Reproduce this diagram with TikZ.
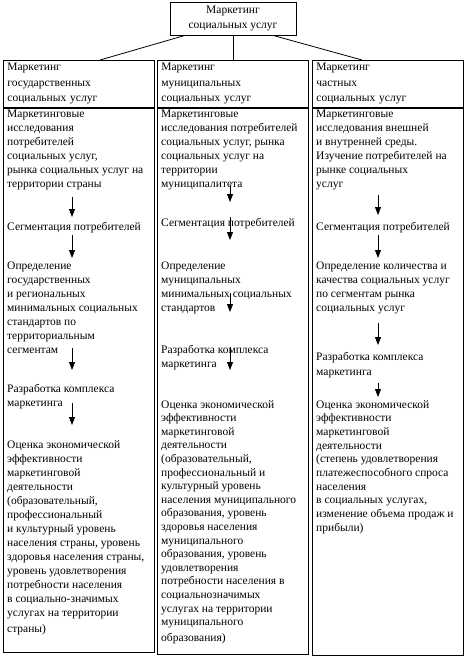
\documentclass[tikz,border=0pt]{standalone}
\usepackage{fontspec}
\setmainfont{Liberation Serif}
\usetikzlibrary{arrows.meta}
\tikzset{
    base/.style = {
        draw=black, line width=0.8pt, inner sep=0pt
    },
    % Boxes
    rootbox/.style = {base, rectangle, minimum width=126pt, minimum height=33pt,
        align=center, font=\fontsize{11.5}{15}\selectfont},
    header/.style  = {base, rectangle, anchor=north west, minimum width=151pt,
        minimum height=47pt, text width=143pt, inner xsep=4pt, align=left,
        font=\fontsize{11.5}{15.5}\selectfont},
    column/.style  = {base, rectangle, anchor=north west, minimum width=151pt},
    % Texts inside the columns
    stage/.style   = {anchor=north west, align=left, inner sep=0pt,
        font=\fontsize{11.5}{14}\selectfont},
    % Edges
    link/.style  = {line width=0.8pt},
    arrow/.style = {line width=0.8pt, -{Triangle[width=6pt,length=8pt]}}
}
\begin{document}
\begin{tikzpicture}[x=1pt, y=1pt]
    \useasboundingbox (0,0) rectangle (466,-657);

    % Top node
    \node (root) [rootbox] at (233,-18.5) {Маркетинг\\социальных услуг};

    % Column headers
    \node (hL) [header] at (3,-60)   {Маркетинг\\государственных\\социальных услуг};
    \node (hM) [header] at (157,-60) {Маркетинг\\муниципальных\\социальных услуг};
    \node (hR) [header] at (312,-60) {Маркетинг\\частных\\социальных услуг};

    % Column bodies
    \node (bL) [column, minimum height=544pt] at (hL.south west) {};
    \node (bM) [column, minimum height=546pt] at (hM.south west) {};
    \node (bR) [column, minimum height=547pt] at (hR.south west) {};

    % Links from the top node
    \draw [link] ([xshift=-48pt]root.south) -- ([xshift=97pt]hL.north west);
    \draw [link] (root.south) -- (root.south |- hM.north);
    \draw [link] ([xshift=40pt]root.south) -- ([xshift=50pt]hR.north west);

    % Left column: state services
    \node (L1) [stage] at (7,-110) {Маркетинговые\\исследования\\потребителей\\социальных услуг,\\рынка социальных услуг на\\территории страны};
    \node (L2) [stage] at (7,-222) {Сегментация потребителей};
    \node (L3) [stage] at (7,-262) {Определение\\государственных\\и региональных\\минимальных социальных\\стандартов по\\территориальным\\сегментам};
    \node (L4) [stage] at (7,-384) {Разработка комплекса\\маркетинга};
    \node (L5) [stage] at (7,-440) {Оценка экономической\\эффективности\\маркетинговой\\деятельности\\(образовательный,\\профессиональный\\и культурный уровень\\населения страны, уровень\\здоровья населения страны,\\уровень удовлетворения\\потребности населения\\в социально-значимых\\услугах на территории\\[2pt]страны)};

    \coordinate (L1a) at (72,-197); \coordinate (L1b) at (72,-217);
    \coordinate (L2a) at (72,-235); \coordinate (L2b) at (72,-258);
    \coordinate (L3a) at (72,-348); \coordinate (L3b) at (72,-370);
    \coordinate (L4a) at (72,-403); \coordinate (L4b) at (72,-425);
    \draw [arrow] (L1a) -- (L1b);
    \draw [arrow] (L2a) -- (L2b);
    \draw [arrow] (L3a) -- (L3b);
    \draw [arrow] (L4a) -- (L4b);

    % Middle column: municipal services
    \node (M1) [stage] at (161,-110) {Маркетинговые\\исследования потребителей\\социальных услуг, рынка\\социальных услуг на\\территории\\муниципалитета};
    \node (M2) [stage] at (161,-218) {Сегментация потребителей};
    \node (M3) [stage] at (161,-262) {Определение\\муниципальных\\минимальных социальных\\стандартов};
    \node (M4) [stage] at (161,-345) {Разработка комплекса\\маркетинга};
    \node (M5) [stage, font=\fontsize{11.5}{13.6}\selectfont] at (161,-400) {Оценка экономической\\эффективности\\маркетинговой\\деятельности\\(образовательный,\\профессиональный и\\культурный уровень\\населения муниципального\\образования, уровень\\здоровья населения\\муниципального\\образования, уровень\\удовлетворения\\потребности населения в\\социальнозначимых\\услугах на территории\\муниципального\\[2pt]образования)};

    \coordinate (M1a) at (230,-185); \coordinate (M1b) at (230,-202);
    \coordinate (M2a) at (230,-217); \coordinate (M2b) at (230,-240);
    \coordinate (M3a) at (230,-293); \coordinate (M3b) at (230,-312);
    \coordinate (M4a) at (230,-347); \coordinate (M4b) at (230,-370);
    \draw [arrow] (M1a) -- (M1b);
    \draw [arrow] (M2a) -- (M2b);
    \draw [arrow] (M3a) -- (M3b);
    \draw [arrow] (M4a) -- (M4b);

    % Right column: private services
    \node (R1) [stage] at (316,-110) {Маркетинговые\\исследования внешней\\и внутренней среды.\\Изучение потребителей на\\рынке социальных\\услуг};
    \node (R2) [stage] at (316,-222) {Сегментация потребителей};
    \node (R3) [stage] at (316,-262) {Определение количества и\\качества социальных услуг\\по сегментам рынка\\социальных услуг};
    \node (R4) [stage, font=\fontsize{11.5}{15}\selectfont] at (316,-352) {Разработка комплекса\\маркетинга};
    \node (R5) [stage, font=\fontsize{11.5}{13.7}\selectfont] at (316,-400) {Оценка экономической\\эффективности\\маркетинговой\\деятельности\\(степень удовлетворения\\платежеспособного спроса\\населения\\в социальных услугах,\\изменение объема продаж и\\прибыли)};

    \coordinate (R1a) at (378,-195); \coordinate (R1b) at (378,-215);
    \coordinate (R2a) at (378,-235); \coordinate (R2b) at (378,-258);
    \coordinate (R3a) at (378,-323); \coordinate (R3b) at (378,-345);
    \coordinate (R4a) at (378,-383); \coordinate (R4b) at (378,-397);
    \draw [arrow] (R1a) -- (R1b);
    \draw [arrow] (R2a) -- (R2b);
    \draw [arrow] (R3a) -- (R3b);
    \draw [arrow] (R4a) -- (R4b);
\end{tikzpicture}
\end{document}
